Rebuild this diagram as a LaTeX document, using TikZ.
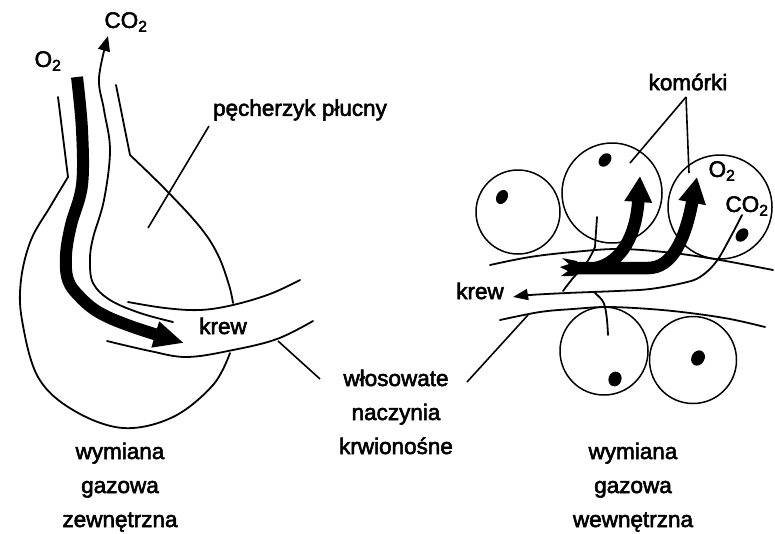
\documentclass[tikz,border=0pt]{standalone}
\usepackage{fontspec}
\setmainfont{Liberation Sans}
\newfontfamily\labelfont{Liberation Sans}[BoldFont=Liberation Sans, BoldFeatures={FakeBold=2.5}]
\usetikzlibrary{arrows.meta}
\begin{document}
\begin{tikzpicture}[x=1pt,y=-1pt,
  wall/.style={line width=1.8pt, line cap=round, line join=round},
  lead/.style={line width=1.6pt},
  lbl/.style={font=\labelfont\bfseries\fontsize{22.5}{34}\selectfont, inner sep=0pt, align=center},
  flow/.style={line width=12pt, -{Triangle[length=30pt,width=25pt]}},
  cellflow/.style={line width=12.5pt, -{Triangle[length=26pt,width=26pt]}},
  gas/.style={wall, -{Triangle[length=15pt,width=12pt]}},
  cell/.style={circle, draw, line width=1.5pt, inner sep=0pt},
  nucleus/.style={fill=black}]
\useasboundingbox (0,0) rectangle (775,533);

% ---------- alveolus (external exchange) ----------
% left wall of the duct and the sac
\draw[wall] (58,97) -- plot[smooth, tension=0.6] coordinates {(68,177) (50,207) (31,240) (21,280) (22,320) (38,377) (73,410) (123,428) (173,417) (213,385) (230,353)};
% right wall of the duct and the sac
\draw[wall] (116,85) -- plot[smooth, tension=0.6] coordinates {(130,155) (165,189) (200,227) (218,255) (229,285) (233,303)};
% capillary walls
\draw[wall] plot[smooth, tension=0.6] coordinates {(128,302) (165,308) (200,310) (233,305) (270,294) (300,280)};
\draw[wall] plot[smooth, tension=0.6] coordinates {(107,341) (150,351) (187,357) (233,350) (277,339) (313,321)};
% carbon dioxide leaving the blood
\draw[gas] plot[smooth, tension=0.6] coordinates {(173,322) (140,313) (110,300) (93,283) (90,260) (93,238) (104,200) (110,150) (104,110) (99,78) (108,36)};
% oxygen entering the blood
\draw[flow] plot[smooth, tension=0.6] coordinates {(77,77) (82,130) (82,185) (71,225) (66,255) (68,280) (80,297) (100,313) (133,327) (184,343)};

\node[lbl] (o2a) at (48,61) {O\textsubscript{2}};
\node[lbl] (co2a) at (126,22) {CO\textsubscript{2}};
\node[lbl] (alv) at (300,110) {pęcherzyk płucny};
\coordinate (alvtip) at (209,126);
\coordinate (alvin) at (148,228);
\draw[lead] (alvtip) -- (alvin);
\node[lbl] (krewa) at (223,326) {krew};

\node[lbl, anchor=base] (ext) at (120,527) {wymiana\\gazowa\\zewnętrzna};

% ---------- capillaries label ----------
\node[lbl, anchor=base] (cap) at (396,454) {włosowate\\naczynia\\krwionośne};
\coordinate (capLtip) at (320,379);
\coordinate (capRtip) at (467,382);
\coordinate (capL) at (278,341);
\coordinate (capR) at (528,315);
\draw[lead] (capLtip) -- (capL);
\draw[lead] (capRtip) -- (capR);

% ---------- tissue (internal exchange) ----------
\node[cell, minimum size=84pt] (c1) at (518,212) {};
\node[cell, minimum size=100pt] (c2) at (612,193) {};
\node[cell, minimum size=104pt] (c3) at (720,207) {};
\node[cell, minimum size=88pt] (c4) at (604,351) {};
\node[cell, minimum size=87pt] (c5) at (693,360) {};
\fill[nucleus] (502,197) circle [x radius=5.5pt, y radius=7.5pt, rotate=-30];
\fill[nucleus] (605,160) circle [x radius=5.5pt, y radius=7.5pt, rotate=-40];
\fill[nucleus] (742,235) circle [x radius=5.5pt, y radius=7.5pt, rotate=-40];
\fill[nucleus] (615,379) circle [x radius=6.5pt, y radius=7.5pt, rotate=-20];
\fill[nucleus] (698,358) circle [x radius=6.5pt, y radius=8pt, rotate=-30];

% capillary walls
\draw[wall] plot[smooth, tension=0.6] coordinates {(490,265) (530,257) (573,252) (620,249) (673,253) (720,260) (773,270)};
\draw[wall] plot[smooth, tension=0.6] coordinates {(500,320) (540,312) (573,309) (607,307) (650,309) (690,313) (730,319) (765,327)};
% carbon dioxide carried away with the blood
\draw[wall, -{Triangle[length=15pt,width=11pt]}] plot[smooth, tension=0.6] coordinates {(742,215) (730,238) (716,262) (700,277) (683,283) (650,289) (617,291) (567,293) (530,295) (513,297)};
% diffusion paths
\draw[wall] (597,217) -- plot[smooth, tension=0.6] coordinates {(595,247) (587,262) (573,278) (563,291)};
\draw[wall] plot[smooth, tension=0.6] coordinates {(595,293) (602,300) (605,307) (607,320) (608,335)};

% oxygen passing into the cells
\fill (577,261) -- (562,258) -- (569,264) -- (560,267) -- (568,271) -- (561,276) -- (571,276) -- (577,275) -- cycle;
\draw[cellflow] (571,268) -- (648,268) .. controls (672,268) and (685,240) .. (697,177);
\draw[cellflow] (596,268) .. controls (622,262) and (636,235) .. (640,176);

\node[lbl] (kom) at (688,82) {komórki};
\coordinate (komfork) at (686,97);
\coordinate (c2in) at (630,163);
\coordinate (c3in) at (689,173);
\draw[lead] (komfork) -- (c2in);
\draw[lead] (komfork) -- (c3in);
\node[lbl] (o2b) at (722,171) {O\textsubscript{2}};
\node[lbl] (co2b) at (747,206) {CO\textsubscript{2}};
\node[lbl] (krewb) at (480,291) {krew};

\node[lbl, anchor=base] (int) at (633,527) {wymiana\\gazowa\\wewnętrzna};
\end{tikzpicture}
\end{document}
